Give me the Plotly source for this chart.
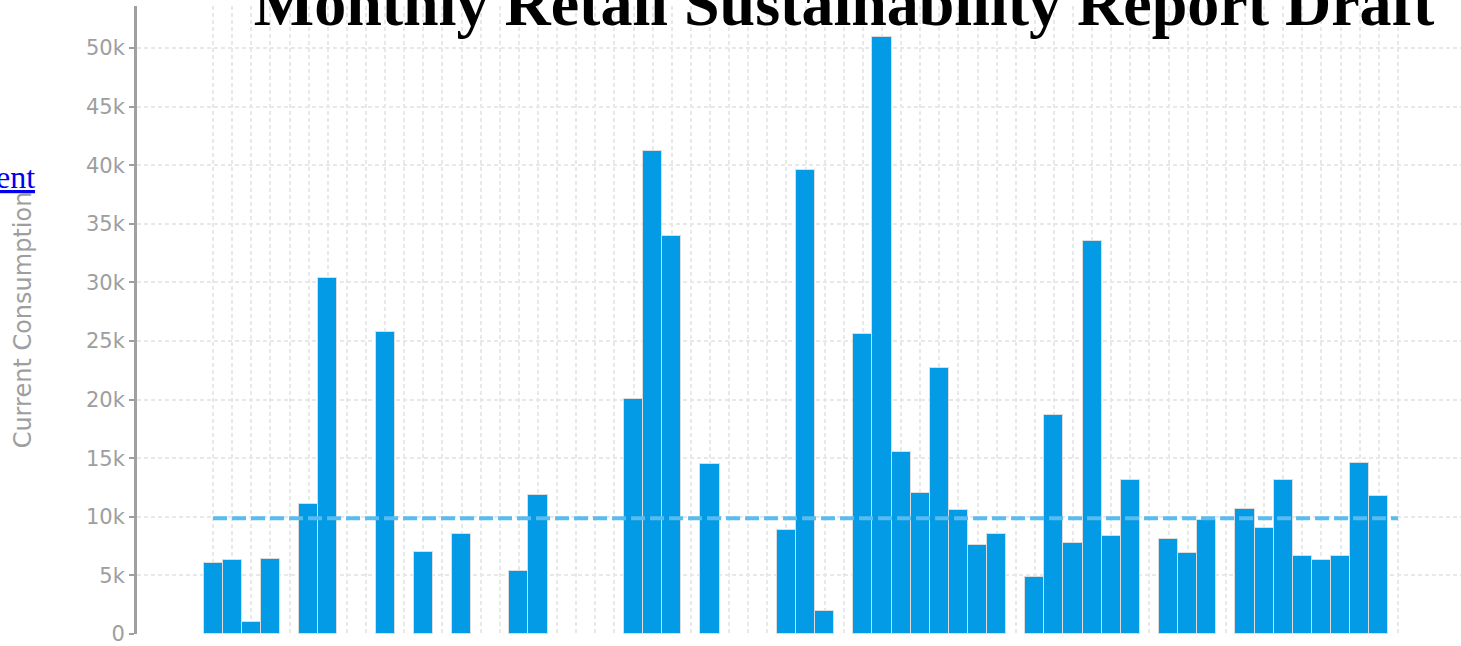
import plotly.graph_objects as go

# ---- data ----
months = [f"{m} {y}" for y in range(2019, 2025)
          for m in ["Jan", "Feb", "Mar", "Apr", "May", "Jun", "Jul", "Aug", "Sep", "Oct", "Nov", "Dec"]][:63]

consumption = [
    6060, 6310, 1020, 6400, None, 11090, 30400, None, None, 25770,
    None, 7000, None, 8530, None, None, 5380, 11860, None, None,
    None, None, 20050, 41200, 33960, None, 14500, None, None, None,
    8870, 39600, 1960, None, 25600, 50940, 15530, 12030, 22700, 10580,
    7590, 8530, None, 4860, 18690, 7760, 33530, 8360, 13140, None,
    8100, 6950, 9750, None, 10640, 9040, 13110, 6660, 6340, 6660,
    14600, 11750, None,
]

target = [9870] * 63

title_text = "Monthly Retail Sustainability Report Draft"
y_title = "Current Consumption"
link_text = "View full document"

# ---- figure ----
fig = go.Figure()
fig.add_trace(go.Bar(
    x=months, y=consumption,
    marker=dict(color="#039be5", line=dict(color="#dcdcdc", width=1)),
    showlegend=False,
))
fig.add_trace(go.Scatter(
    x=months, y=target, mode="lines",
    line=dict(color="#58bcf0", width=4, dash="14px,5px"),
    showlegend=False,
))

W, H = 1461, 646
ml, mt, mb, mr = 137, 6, 12, 0
pw = W - ml - mr
ph = H - mt - mb

fig.update_layout(
    width=W, height=H,
    margin=dict(l=ml, r=mr, t=mt, b=mb, pad=0),
    paper_bgcolor="white", plot_bgcolor="white",
    bargap=0,
    font=dict(family="DejaVu Sans", color="#9e9e9e"),
    title=dict(
        text=f"<b>{title_text}</b>",
        font=dict(family="Liberation Serif", size=64, color="black"),
        x=844 / W, xanchor="center", xref="container",
        y=1 - 3 / H, yanchor="middle", yref="container",
    ),
    xaxis=dict(
        type="category",
        range=[-3.98, 65.3],
        showticklabels=False,
        ticks="",
        showline=False,
        zeroline=False,
        showgrid=True, gridcolor="#e8e8e8", gridwidth=2, griddash="4px,3px",
    ),
    yaxis=dict(
        range=[0, 53584],
        dtick=5000,
        tickformat="~s",
        tickfont=dict(size=21, color="#9e9e9e"),
        ticklabeloverflow="allow",
        ticks="outside", ticklen=5, tickwidth=2, tickcolor="#9e9e9e",
        showline=True, linecolor="#a0a0a0", linewidth=3,
        zeroline=False,
        showgrid=True, gridcolor="#e8e8e8", gridwidth=2, griddash="4px,3px",
        title=dict(text=y_title, font=dict(size=24, color="#9e9e9e"), standoff=48),
        automargin=False,
    ),
    annotations=[dict(
        text=f'<u>{link_text}</u>',
        xref="paper", yref="paper",
        x=(37 - ml) / pw, xanchor="right",
        y=(634 - 177) / ph, yanchor="middle",
        showarrow=False,
        font=dict(family="Liberation Serif", size=32, color="#0000ee"),
    )],
)

fig.write_html(
    "out.html",
    config={"displayModeBar": False},
    post_script="document.body.style.margin='0';",
)
